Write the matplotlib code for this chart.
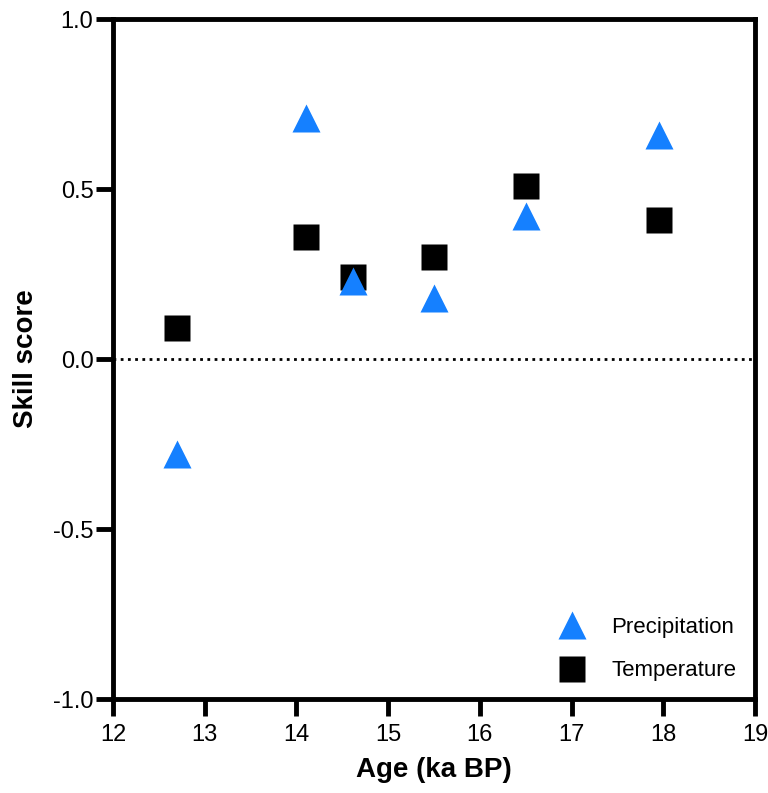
import matplotlib
matplotlib.use("Agg")
import matplotlib.pyplot as plt

# Skill scores per time slice
age_ka = [12.7, 14.1, 14.62, 15.5, 16.5, 17.95]
precipitation = [-0.28, 0.71, 0.23, 0.18, 0.42, 0.66]
temperature = [0.09, 0.36, 0.24, 0.30, 0.51, 0.41]

x_ticks = [12, 13, 14, 15, 16, 17, 18, 19]
y_ticks = [-1.0, -0.5, 0.0, 0.5, 1.0]

font = "Liberation Sans"

fig = plt.figure(figsize=(7.68, 7.93), dpi=100)
ax = fig.add_axes([0.147, 0.1185, 0.836, 0.8575])

ax.axhline(0, color="black", lw=2, ls=(0, (1, 1.6)), zorder=1)

ax.plot(age_ka, temperature, ls="none", marker="s", ms=19, color="black",
        mec="none", label="Temperature", zorder=3)
ax.plot(age_ka, precipitation, ls="none", marker="^", ms=19.5, color="#1580ff",
        mec="none", label="Precipitation", zorder=4)

ax.set_xlim(12, 19)
ax.set_ylim(-1, 1)
ax.set_xticks(x_ticks)
ax.set_xticklabels([str(t) for t in x_ticks], family=font, fontsize=17)
ax.set_yticks(y_ticks)
ax.set_yticklabels([f"{t:.1f}" for t in y_ticks], family=font, fontsize=17)

for s in ax.spines.values():
    s.set_linewidth(3.5)
ax.tick_params(width=3.5, length=12, direction="out")
ax.tick_params(axis="x", pad=6)
ax.tick_params(axis="y", pad=2)

ax.set_xlabel("Age (ka BP)", family=font, fontweight="bold", fontsize=20, labelpad=8)
ax.set_ylabel("Skill score", family=font, fontweight="bold", fontsize=20, labelpad=10)

handles, labels = ax.get_legend_handles_labels()
ax.legend(handles[::-1], labels[::-1], loc="lower left", frameon=False,
          prop={"family": font, "size": 16}, handletextpad=0.75,
          labelspacing=1.0, borderaxespad=0.0, bbox_to_anchor=(0.667, 0.013))

fig.savefig("out.png", dpi=100)
